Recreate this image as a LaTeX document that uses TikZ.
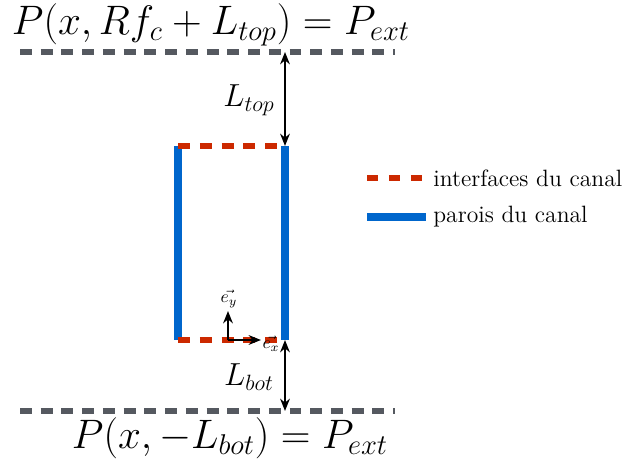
\documentclass[tikz,border=0pt]{standalone}
\usepackage{amsmath, amssymb}
\usepackage{graphicx}
\usepackage{xcolor}
\usepackage{tikz}
\usetikzlibrary{arrows.meta, positioning}
\definecolor{boundgray}{RGB}{85, 89, 96}
\definecolor{ifacered}{RGB}{204, 41, 0}
\definecolor{wallblue}{RGB}{0, 102, 204}
\newcommand{\bigeq}[1]{\scalebox{1.13}{\huge$#1$}}
\newcommand{\lenlab}[1]{\scalebox{1.05}{\LARGE$#1$}}
\newcommand{\legendlab}[1]{\scalebox{1.12}{\large #1}}

\begin{document}
\begin{tikzpicture}[
  x=0.02cm, y=-0.02cm,
  bound/.style={draw=boundgray, line width=3pt, dash pattern=on 6.8pt off 5pt},
  iface/.style={draw=ifacered, line width=3pt, dash pattern=on 6.8pt off 5.6pt},
  wall/.style={draw=wallblue, line width=4.3pt},
  dimline/.style={{Stealth[length=7pt,width=5.5pt]}-{Stealth[length=7pt,width=5.5pt]}, line width=1.1pt},
  basevec/.style={-{Stealth[length=7pt,width=5.5pt]}, line width=1.4pt},
  smallmath/.style={font=\normalsize, inner sep=0pt},
  legtext/.style={anchor=west, inner sep=0pt}
]
\useasboundingbox (0,0) rectangle (626,463);

% boundaries
\coordinate (tl) at (20,52);
\coordinate (tr) at (395,52);
\coordinate (bl) at (20,411);
\coordinate (br) at (395,411);
\draw[bound] (tl) -- (tr);
\draw[bound] (bl) -- (br);

% channel
\coordinate (c1) at (178,146);
\coordinate (c2) at (285,146);
\coordinate (c3) at (178,340);
\coordinate (c4) at (285,340);
\draw[wall] (c1) -- (c3);
\draw[wall] (c2) -- (c4);
\draw[iface] (c1) -- (c2);
\draw[iface] (c3) -- (c4);

% distances
\coordinate (atop) at (285,52);
\coordinate (abot) at (285,411);
\draw[dimline] (atop) -- (c2);
\draw[dimline] (c4) -- (abot);
\node (ltop) at (249,100) {\lenlab{L_{top}}};
\node (lbot) at (249,377) {\lenlab{L_{bot}}};

% basis
\coordinate (o) at (228,340);
\coordinate (ex) at (261,340);
\coordinate (ey) at (228,311);
\draw[basevec] (o) -- (ex);
\draw[basevec] (o) -- (ey);
\node[smallmath] (lex) at (271,344) {$\vec{e_x}$};
\node[smallmath] (ley) at (229,299) {$\vec{e_y}$};

% boundary conditions
\node (ptop) at (211,25) {\bigeq{P(x, Rf_c + L_{top}) = P_{ext}}};
\node (pbot) at (230,438) {\bigeq{P(x, -L_{bot}) = P_{ext}}};

% legend
\node[legtext] (liface) at (433,178) {\legendlab{interfaces du canal}};
\node[legtext] (lwall) at (433,217) {\legendlab{parois du canal}};
\coordinate (k1) at (367,178);
\coordinate (k2) at (426,178);
\coordinate (k3) at (367,217);
\coordinate (k4) at (426,217);
\draw[iface, dash pattern=on 6.5pt off 6pt] (k1) -- (k2);
\draw[wall, line width=4.6pt] (k3) -- (k4);
\end{tikzpicture}
\end{document}
